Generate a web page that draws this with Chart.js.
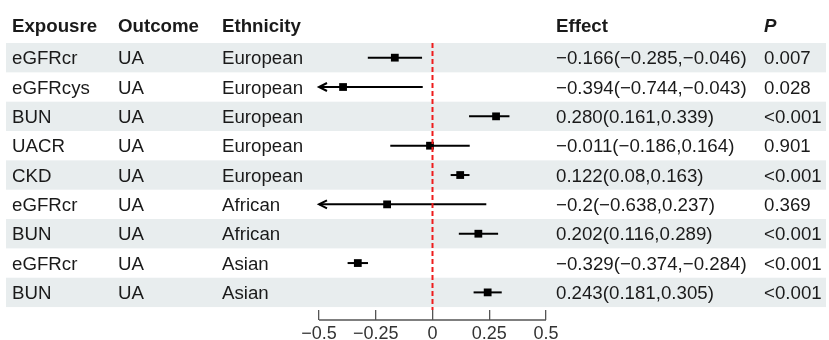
<!DOCTYPE html>
<html>
<head>
<meta charset="utf-8">
<script src="https://cdn.jsdelivr.net/npm/chart.js"></script>
<style>
  body { margin: 0; background: #fff; }
  #wrap { width: 829px; height: 340px; position: relative; }
</style>
</head>
<body>
<div id="wrap"><canvas id="forestChart"></canvas></div>
<script>
// --------------------------------- DATA -----------------------------------
var exposures = ['eGFRcr', 'eGFRcys', 'BUN', 'UACR', 'CKD', 'eGFRcr', 'BUN', 'eGFRcr', 'BUN'];
var outcomes = ['UA', 'UA', 'UA', 'UA', 'UA', 'UA', 'UA', 'UA', 'UA'];
var ethnicities = ['European', 'European', 'European', 'European', 'European', 'African', 'African', 'Asian', 'Asian'];
var estimates = [-0.166, -0.394, 0.280, -0.011, 0.122, -0.2, 0.202, -0.329, 0.243];
var lowers = [-0.285, -0.744, 0.161, -0.186, 0.08, -0.638, 0.116, -0.374, 0.181];
var uppers = [-0.046, -0.043, 0.339, 0.164, 0.163, 0.237, 0.289, -0.284, 0.305];
var effectLabels = [
  '−0.166(−0.285,−0.046)',
  '−0.394(−0.744,−0.043)',
  '0.280(0.161,0.339)',
  '−0.011(−0.186,0.164)',
  '0.122(0.08,0.163)',
  '−0.2(−0.638,0.237)',
  '0.202(0.116,0.289)',
  '−0.329(−0.374,−0.284)',
  '0.243(0.181,0.305)'
];
var pValues = ['0.007', '0.028', '<0.001', '0.901', '<0.001', '0.369', '<0.001', '<0.001', '<0.001'];
var xTicks = [-0.5, -0.25, 0, 0.25, 0.5];

var FONT = "'Liberation Sans', Arial, sans-serif";
var TEXT = '#1a1a1a';

// --------------------------------- TABLE + CI -----------------------------
var forestPlugin = {
  id: 'forest',
  beforeDatasetsDraw: function(chart) {
    var ctx = chart.ctx;
    var x = chart.scales.x, y = chart.scales.y;
    var xmin = x.min, xmax = x.max;

    ctx.save();
    // striped rows
    for (var i = 0; i < exposures.length; i++) {
      if (i % 2 == 0) {
        var top = y.getPixelForValue(i + 0.5);
        var bot = y.getPixelForValue(i + 1.5);
        ctx.fillStyle = '#e8edee';
        ctx.fillRect(6, top, 820, bot - top);
      }
    }

    // header
    var hy = y.getPixelForValue(-0.1) + 6.5;
    ctx.fillStyle = TEXT;
    ctx.font = 'bold 18.7px ' + FONT;
    ctx.fillText('Expousre', 12, hy);
    ctx.fillText('Outcome', 118, hy);
    ctx.fillText('Ethnicity', 222, hy);
    ctx.fillText('Effect', 556, hy);
    ctx.font = 'italic bold 18.7px ' + FONT;
    ctx.fillText('P', 764, hy);

    // body text
    ctx.font = '18.7px ' + FONT;
    for (var i = 0; i < exposures.length; i++) {
      var ty = y.getPixelForValue(i + 1) + 6.5;
      ctx.fillText(exposures[i], 12, ty);
      ctx.fillText(outcomes[i], 118, ty);
      ctx.fillText(ethnicities[i], 222, ty);
      ctx.fillText(effectLabels[i], 556, ty);
      ctx.fillText(pValues[i], 764, ty);
    }

    // confidence intervals, arrows when clipped
    ctx.strokeStyle = '#000';
    ctx.lineWidth = 2;
    for (var i = 0; i < estimates.length; i++) {
      var cy = y.getPixelForValue(i + 1);
      var lo = Math.max(lowers[i], xmin), hi = Math.min(uppers[i], xmax);
      var x1 = x.getPixelForValue(lo), x2 = x.getPixelForValue(hi);
      ctx.beginPath();
      ctx.moveTo(x1, cy);
      ctx.lineTo(x2, cy);
      ctx.stroke();
      if (lowers[i] < xmin) {
        ctx.beginPath();
        ctx.moveTo(x1 + 8, cy - 4);
        ctx.lineTo(x1, cy);
        ctx.lineTo(x1 + 8, cy + 4);
        ctx.stroke();
      }
      if (uppers[i] > xmax) {
        ctx.beginPath();
        ctx.moveTo(x2 - 8, cy - 4);
        ctx.lineTo(x2, cy);
        ctx.lineTo(x2 - 8, cy + 4);
        ctx.stroke();
      }
    }
    ctx.restore();
  },
  afterDatasetsDraw: function(chart) {
    var ctx = chart.ctx;
    var x = chart.scales.x, area = chart.chartArea;
    ctx.save();
    // reference line at 0
    ctx.strokeStyle = '#ee1c1c';
    ctx.lineWidth = 2;
    ctx.setLineDash([5, 3]);
    ctx.beginPath();
    ctx.moveTo(x.getPixelForValue(0), area.top);
    ctx.lineTo(x.getPixelForValue(0), area.bottom);
    ctx.stroke();
    ctx.setLineDash([]);
    // axis baseline under the tick marks
    ctx.strokeStyle = '#555';
    ctx.lineWidth = 1.3;
    ctx.beginPath();
    ctx.moveTo(x.getPixelForValue(x.min), area.bottom + 10);
    ctx.lineTo(x.getPixelForValue(x.max), area.bottom + 10);
    ctx.stroke();
    ctx.restore();
  }
};

// --------------------------------- CHART ----------------------------------
var points = estimates.map(function(v, i) { return { x: v, y: i + 1 }; });

var ctx = document.getElementById('forestChart').getContext('2d');
var forestChart = new Chart(ctx, {
  type: 'scatter',
  data: {
    datasets: [{
      data: points,
      pointStyle: 'rect',
      pointRadius: 5.5,
      pointHoverRadius: 5.5,
      backgroundColor: '#000',
      borderWidth: 0
    }]
  },
  options: {
    responsive: true,
    maintainAspectRatio: false,
    animation: false,
    layout: { padding: { left: 319, right: 283, top: 43, bottom: 0 } },
    plugins: { legend: { display: false }, tooltip: { enabled: false } },
    scales: {
      x: {
        type: 'linear',
        min: -0.5,
        max: 0.5,
        afterBuildTicks: function(s) { s.ticks = xTicks.map(function(v) { return { value: v }; }); },
        afterFit: function(s) { s.height = 30; },
        border: { display: false },
        grid: { drawOnChartArea: false, drawTicks: true, tickLength: 10, tickColor: '#555', lineWidth: 1.3 },
        ticks: {
          autoSkip: false,
          maxRotation: 0,
          padding: 3,
          color: '#333',
          font: { family: FONT, size: 18 },
          callback: function(v) { return v == 0 ? '0' : String(v).replace('-', '−'); }
        }
      },
      y: {
        type: 'linear',
        reverse: true,
        min: 0.5,
        max: 9.6,
        display: false
      }
    }
  },
  plugins: [forestPlugin]
});
</script>
</body>
</html>
